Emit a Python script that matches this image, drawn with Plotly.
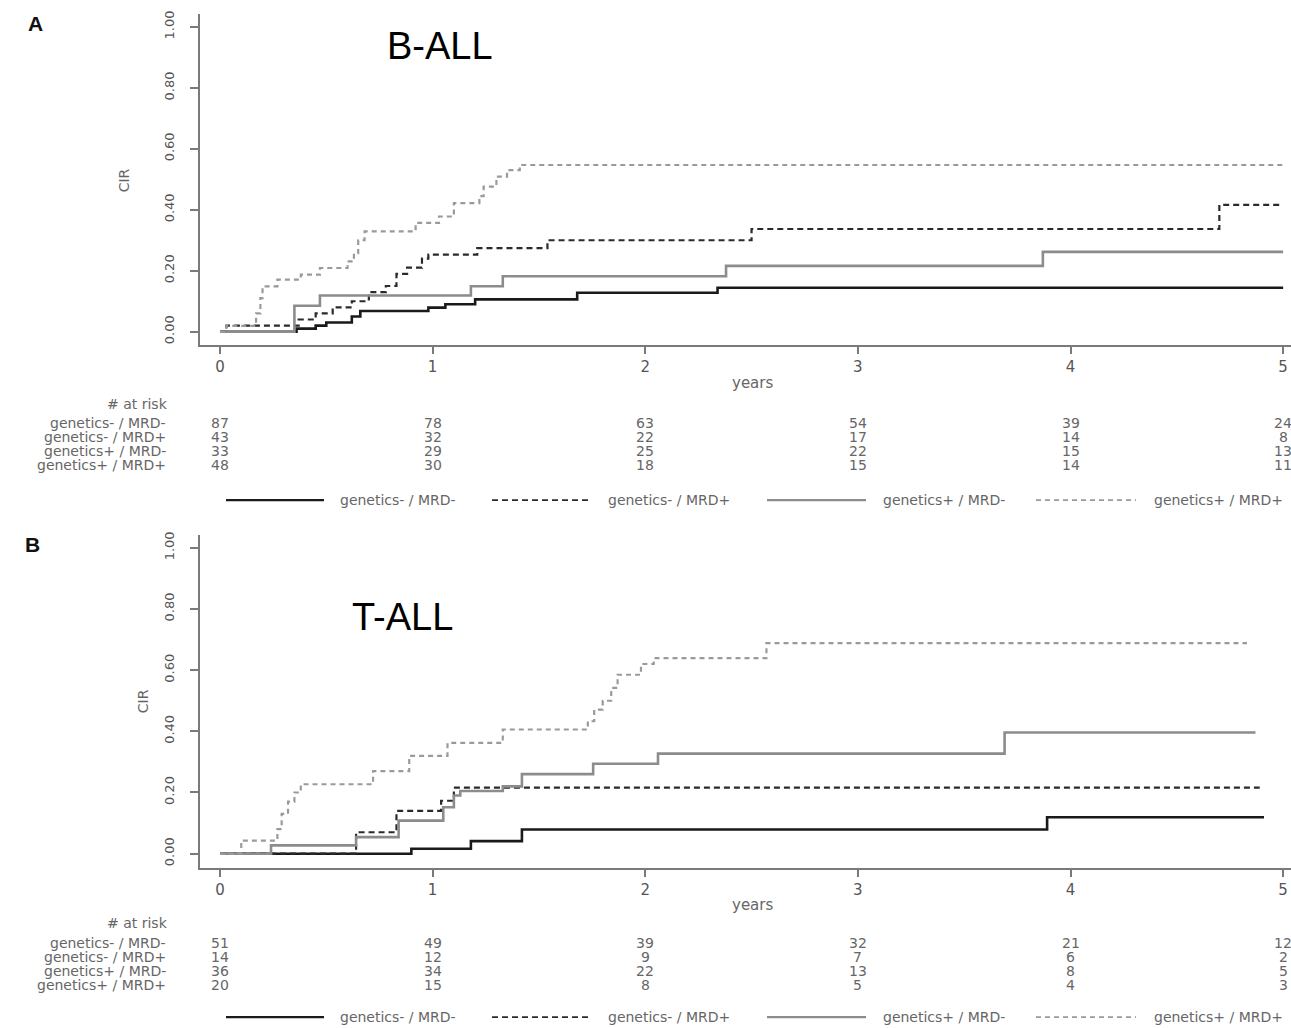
import plotly.graph_objects as go

W, H = 1291, 1028

# ---------------------------------------------------------------- data
YEARS = [0, 1, 2, 3, 4, 5]
GROUPS = ["genetics- / MRD-", "genetics- / MRD+", "genetics+ / MRD-", "genetics+ / MRD+"]
Y_TICKS = [0, 0.2, 0.4, 0.6, 0.8, 1.0]
Y_TICKTEXT = ["0.00", "0.20", "0.40", "0.60", "0.80", "1.00"]

# B-ALL cumulative incidence of relapse (step times in years, CIR after each step)
ball_gneg_mneg_t = [0, 0.36, 0.45, 0.50, 0.62, 0.66, 0.98, 1.06, 1.20, 1.68, 2.34]
ball_gneg_mneg_v = [0, 0.010, 0.020, 0.030, 0.050, 0.068, 0.079, 0.090, 0.106, 0.128, 0.144]
ball_gneg_mneg_end = 5.0

ball_gneg_mpos_t = [0, 0.03, 0.37, 0.45, 0.53, 0.62, 0.70, 0.78, 0.83, 0.88, 0.95, 0.98, 1.21, 1.54, 2.50, 4.70]
ball_gneg_mpos_v = [0, 0.020, 0.040, 0.060, 0.080, 0.100, 0.130, 0.150, 0.190, 0.210, 0.240, 0.253, 0.274, 0.300, 0.337, 0.416]
ball_gneg_mpos_end = 5.0

ball_gpos_mneg_t = [0, 0.35, 0.47, 1.18, 1.33, 2.38, 3.87]
ball_gpos_mneg_v = [0, 0.085, 0.119, 0.149, 0.182, 0.216, 0.262]
ball_gpos_mneg_end = 5.0

ball_gpos_mpos_t = [0, 0.03, 0.17, 0.19, 0.20, 0.27, 0.38, 0.47, 0.60, 0.63, 0.65, 0.68, 0.92, 1.03, 1.10, 1.22, 1.24, 1.30, 1.35, 1.41]
ball_gpos_mpos_v = [0, 0.019, 0.060, 0.110, 0.149, 0.171, 0.187, 0.209, 0.231, 0.258, 0.300, 0.329, 0.357, 0.378, 0.422, 0.445, 0.476, 0.509, 0.530, 0.547]
ball_gpos_mpos_end = 5.0

# T-ALL cumulative incidence of relapse
tall_gneg_mneg_t = [0, 0.90, 1.18, 1.42, 3.89]
tall_gneg_mneg_v = [0, 0.016, 0.041, 0.079, 0.119]
tall_gneg_mneg_end = 4.91

tall_gneg_mpos_t = [0, 0.64, 0.83, 1.04, 1.10]
tall_gneg_mpos_v = [0, 0.070, 0.140, 0.173, 0.216]
tall_gneg_mpos_end = 4.89

tall_gpos_mneg_t = [0, 0.24, 0.64, 0.84, 1.05, 1.10, 1.13, 1.33, 1.42, 1.755, 2.06, 3.69]
tall_gpos_mneg_v = [0, 0.027, 0.054, 0.108, 0.152, 0.190, 0.205, 0.220, 0.260, 0.294, 0.327, 0.396]
tall_gpos_mneg_end = 4.87

tall_gpos_mpos_t = [0, 0.10, 0.27, 0.29, 0.32, 0.35, 0.38, 0.72, 0.89, 1.07, 1.33, 1.73, 1.76, 1.80, 1.84, 1.87, 1.98, 2.04, 2.57]
tall_gpos_mpos_v = [0, 0.043, 0.080, 0.130, 0.170, 0.200, 0.227, 0.270, 0.320, 0.362, 0.406, 0.433, 0.471, 0.500, 0.542, 0.585, 0.620, 0.639, 0.688]
tall_gpos_mpos_end = 4.83

# numbers at risk at 0..5 years
ball_risk_gneg_mneg = [87, 78, 63, 54, 39, 24]
ball_risk_gneg_mpos = [43, 32, 22, 17, 14, 8]
ball_risk_gpos_mneg = [33, 29, 25, 22, 15, 13]
ball_risk_gpos_mpos = [48, 30, 18, 15, 14, 11]

tall_risk_gneg_mneg = [51, 49, 39, 32, 21, 12]
tall_risk_gneg_mpos = [14, 12, 9, 7, 6, 2]
tall_risk_gpos_mneg = [36, 34, 22, 13, 8, 5]
tall_risk_gpos_mpos = [20, 15, 8, 5, 4, 3]

# ---------------------------------------------------------------- styles
STYLES = [
    dict(color="#1a1a1a", width=2.6, dash="solid"),
    dict(color="#2a2a2a", width=2.2, dash="6px,4px"),
    dict(color="#8c8c8c", width=2.6, dash="solid"),
    dict(color="#9a9a9a", width=2.2, dash="5px,4px"),
]
AXIS_COLOR = "#7a7a7a"
TEXT_COLOR = "#666666"
SMALL_FONT = dict(family="DejaVu Sans", size=14, color=TEXT_COLOR)


def px(x):
    return x / W


def py(y):
    return 1 - y / H


def step_xy(t, v, end):
    return list(t) + [end], list(v) + [v[-1]]


fig = go.Figure()

panels = [
    dict(
        xa="x", ya="y",
        curves=[
            (ball_gneg_mneg_t, ball_gneg_mneg_v, ball_gneg_mneg_end),
            (ball_gneg_mpos_t, ball_gneg_mpos_v, ball_gneg_mpos_end),
            (ball_gpos_mneg_t, ball_gpos_mneg_v, ball_gpos_mneg_end),
            (ball_gpos_mpos_t, ball_gpos_mpos_v, ball_gpos_mpos_end),
        ],
        risk=[ball_risk_gneg_mneg, ball_risk_gneg_mpos, ball_risk_gpos_mneg, ball_risk_gpos_mpos],
        letter="A", letter_xy=(35, 20),
        title="B-ALL", title_xy=(440, 42),
        cir_xy=(124, 177), years_y=380,
        risk_head_y=402, risk_rows_y=[421, 435, 449, 463], legend_y=498,
    ),
    dict(
        xa="x2", ya="y2",
        curves=[
            (tall_gneg_mneg_t, tall_gneg_mneg_v, tall_gneg_mneg_end),
            (tall_gneg_mpos_t, tall_gneg_mpos_v, tall_gneg_mpos_end),
            (tall_gpos_mneg_t, tall_gpos_mneg_v, tall_gpos_mneg_end),
            (tall_gpos_mpos_t, tall_gpos_mpos_v, tall_gpos_mpos_end),
        ],
        risk=[tall_risk_gneg_mneg, tall_risk_gneg_mpos, tall_risk_gpos_mneg, tall_risk_gpos_mpos],
        letter="B", letter_xy=(32, 543),
        title="T-ALL", title_xy=(402, 615),
        cir_xy=(143, 700), years_y=905,
        risk_head_y=923, risk_rows_y=[943, 957, 971, 985], legend_y=1017,
    ),
]

annotations = []
shapes = []

# legend sample segments (x pixel spans) and label starts
LEG_SEGS = [(226, 324), (492, 589), (767, 866), (1036, 1136)]
LEG_TEXT_X = [338, 606, 881, 1152]

for p in panels:
    for (t, v, end), name, st in zip(p["curves"], GROUPS, STYLES):
        xs, ys = step_xy(t, v, end)
        fig.add_trace(go.Scatter(
            x=xs, y=ys, mode="lines", name=name, showlegend=False,
            line=dict(shape="hv", color=st["color"], width=st["width"], dash=st["dash"]),
            xaxis=p["xa"], yaxis=p["ya"],
        ))

    # panel letter and subtitle
    annotations.append(dict(
        text="<b>%s</b>" % p["letter"], xref="paper", yref="paper",
        x=px(p["letter_xy"][0]), y=py(p["letter_xy"][1]),
        xanchor="center", yanchor="middle", showarrow=False,
        font=dict(family="Liberation Sans", size=21, color="#111111"),
    ))
    annotations.append(dict(
        text=p["title"], xref="paper", yref="paper",
        x=px(p["title_xy"][0]), y=py(p["title_xy"][1]),
        xanchor="center", yanchor="middle", showarrow=False,
        font=dict(family="Liberation Sans", size=38, color="#000000"),
    ))
    # axis titles
    annotations.append(dict(
        text="CIR", xref="paper", yref="paper",
        x=px(p["cir_xy"][0]), y=py(p["cir_xy"][1]), textangle=-90,
        xanchor="center", yanchor="middle", showarrow=False,
        font=dict(family="DejaVu Sans", size=14, color=TEXT_COLOR),
    ))
    annotations.append(dict(
        text="years", xref="paper", yref="paper",
        x=px(752), y=py(p["years_y"]),
        xanchor="center", yanchor="middle", showarrow=False,
        font=dict(family="DejaVu Sans", size=15, color=TEXT_COLOR),
    ))

    # numbers-at-risk table
    annotations.append(dict(
        text="# at risk", xref="paper", yref="paper",
        x=px(170), y=py(p["risk_head_y"]),
        xanchor="right", yanchor="middle", showarrow=False, font=SMALL_FONT,
    ))
    for name, row, ry in zip(GROUPS, p["risk"], p["risk_rows_y"]):
        annotations.append(dict(
            text=name, xref="paper", yref="paper",
            x=px(168), y=py(ry),
            xanchor="right", yanchor="middle", showarrow=False, font=SMALL_FONT,
        ))
        for yr, n in zip(YEARS, row):
            annotations.append(dict(
                text=str(n), xref=p["xa"], yref="paper",
                x=yr, y=py(ry),
                xanchor="center", yanchor="middle", showarrow=False, font=SMALL_FONT,
            ))

    # legend row
    for (x0, x1), tx, name, st in zip(LEG_SEGS, LEG_TEXT_X, GROUPS, STYLES):
        shapes.append(dict(
            type="line", xref="paper", yref="paper",
            x0=px(x0), x1=px(x1), y0=py(p["legend_y"]), y1=py(p["legend_y"]),
            line=dict(color=st["color"], width=st["width"] - 0.4, dash=st["dash"]),
        ))
        annotations.append(dict(
            text=name, xref="paper", yref="paper",
            x=px(tx), y=py(p["legend_y"]),
            xanchor="left", yanchor="middle", showarrow=False, font=SMALL_FONT,
        ))

xaxis_common = dict(
    domain=[px(200), 1.0], range=[-0.094, 5.037],
    tickvals=YEARS, ticktext=[str(y) for y in YEARS],
    showline=True, linecolor=AXIS_COLOR, linewidth=2, mirror=False,
    ticks="outside", ticklen=7, tickwidth=2, tickcolor=AXIS_COLOR,
    showgrid=False, zeroline=False,
    tickfont=dict(family="DejaVu Sans", size=15, color="#555555"),
)
yaxis_common = dict(
    tickvals=Y_TICKS, ticktext=Y_TICKTEXT, tickangle=-90,
    showline=True, linecolor=AXIS_COLOR, linewidth=2,
    ticks="outside", ticklen=8, tickwidth=2, tickcolor=AXIS_COLOR,
    ticklabelstandoff=11,
    showgrid=False, zeroline=False,
    tickfont=dict(family="DejaVu Sans", size=13, color="#555555"),
)

fig.update_layout(
    width=W, height=H,
    margin=dict(l=0, r=0, t=0, b=0),
    paper_bgcolor="white", plot_bgcolor="white",
    showlegend=False,
    xaxis=dict(anchor="y", **xaxis_common),
    yaxis=dict(anchor="x", domain=[py(342), py(10)], range=[-0.0425, 1.0425], **yaxis_common),
    xaxis2=dict(anchor="y2", **xaxis_common),
    yaxis2=dict(anchor="x2", domain=[py(867), py(533)], range=[-0.0456, 1.042], **yaxis_common),
    annotations=annotations,
    shapes=shapes,
)

fig.write_html("out.html")
